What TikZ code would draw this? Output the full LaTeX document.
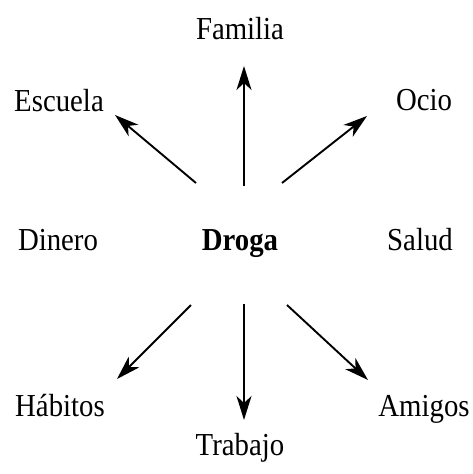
\documentclass[tikz,border=0pt]{standalone}
\usepackage{fontspec}
\setmainfont[FakeStretch=0.9]{Liberation Serif}
\usetikzlibrary{arrows.meta}
\begin{document}
\begin{tikzpicture}[x=1pt,y=-1pt,
  lbl/.style={anchor=base,inner sep=0pt,font=\fontsize{32}{36}\selectfont},
  arr/.style={line width=1.9pt,-{Stealth[length=24pt,width=15pt,inset=7pt]}}]
\useasboundingbox (0,0) rectangle (473,474);
\node[lbl] (familia) at (240,39) {Familia};
\node[lbl] (escuela) at (59,111) {Escuela};
\node[lbl] (ocio) at (424,110) {Ocio};
\node[lbl] (dinero) at (58,250) {Dinero};
\node[lbl,font=\fontsize{32}{36}\selectfont\bfseries] (droga) at (240,250) {Droga};
\node[lbl] (salud) at (420,250) {Salud};
\node[lbl] (habitos) at (60,416) {Hábitos};
\node[lbl] (amigos) at (424,416) {Amigos};
\node[lbl] (trabajo) at (240,455) {Trabajo};
\coordinate (sU) at (244,186);
\coordinate (eU) at (244,66);
\coordinate (sUL) at (196,183);
\coordinate (eUL) at (115,115);
\coordinate (sUR) at (282,183);
\coordinate (eUR) at (367,116);
\coordinate (sD) at (244,304);
\coordinate (eD) at (244,420);
\coordinate (sDL) at (191,305);
\coordinate (eDL) at (117,379);
\coordinate (sDR) at (287,305);
\coordinate (eDR) at (368,380);
\draw[arr] (sU) -- (eU);
\draw[arr] (sUL) -- (eUL);
\draw[arr] (sUR) -- (eUR);
\draw[arr] (sD) -- (eD);
\draw[arr] (sDL) -- (eDL);
\draw[arr] (sDR) -- (eDR);
\end{tikzpicture}
\end{document}
